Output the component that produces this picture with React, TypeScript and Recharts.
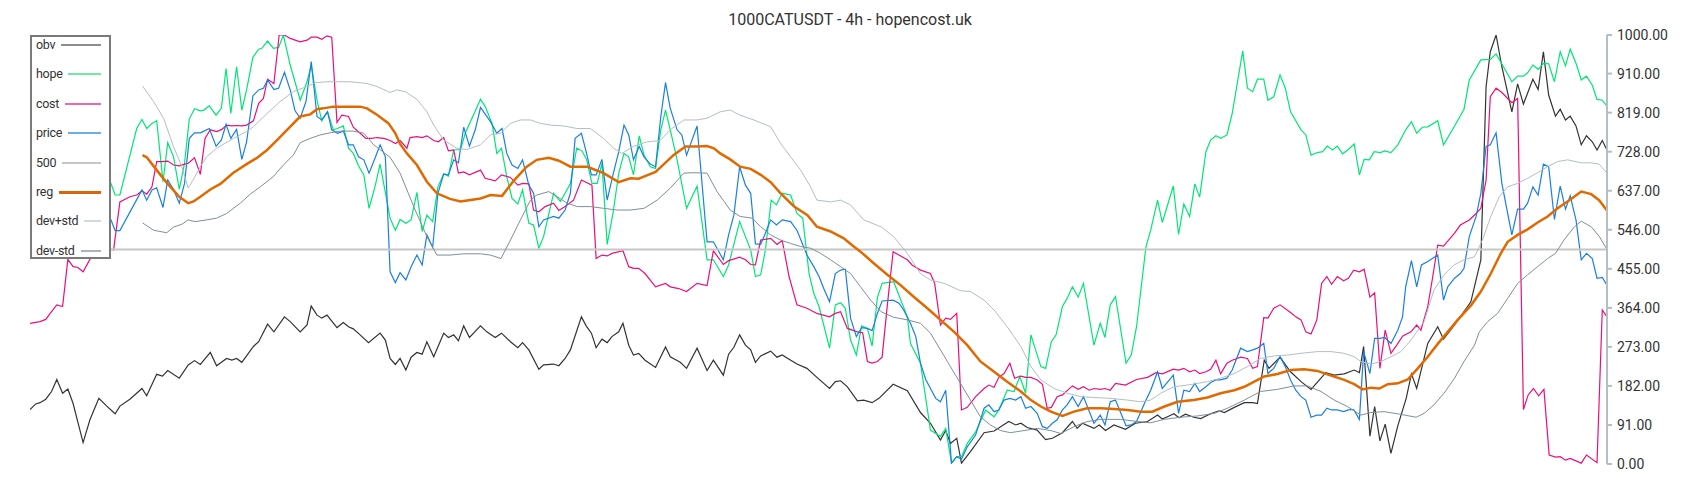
import React from 'react';
import { LineChart, Line, XAxis, YAxis } from 'recharts';

type Pt = [number, number];

const title = '1000CATUSDT - 4h - hopencost.uk';
const yTicks = [0, 91, 182, 273, 364, 455, 546, 637, 728, 819, 910, 1000];

const obv: Pt[] = [[0,127],[1.1,140],[1.9,143],[3,151],[4.1,169],[5.1,197],[6.2,165],[7.2,175],[8.2,141],[10.1,50],[11.4,103],[13.1,153],[14.6,135],[16.2,117],[17.1,135],[19,151],[21.3,176],[22.2,159],[24.1,209],[25.2,205],[26.2,218],[28.4,200],[30.1,231],[31.3,241],[32.4,232],[34.3,260],[35.5,229],[37.4,246],[38.4,242],[39.3,246],[40.3,237],[42.5,274],[43.5,285],[45.2,326],[46.4,308],[48.4,343],[49.5,332],[51.4,308],[52.7,324],[53.5,368],[54.6,347],[55.5,340],[56.5,347],[58.4,318],[59.6,330],[60.6,320],[61.5,315],[62.8,301],[64.4,283],[66.6,305],[67.6,289],[68.5,246],[69.5,232],[70.4,246],[71.5,219],[72.5,249],[73.6,260],[74.6,256],[75.5,285],[76.8,250],[78.7,305],[79.6,295],[80.6,301],[81.5,287],[82.5,322],[83.6,295],[85.7,322],[86.9,308],[88.5,295],[89.7,305],[91.4,285],[92.8,271],[93.7,283],[94.9,266],[96.8,221],[97.7,231],[99.6,233],[100.6,229],[101.8,246],[102.8,266],[104.9,343],[105.8,322],[106.8,305],[107.7,271],[108.8,291],[109.8,283],[110.7,297],[112,308],[112.8,328],[113.9,277],[114.8,254],[115.8,258],[117,242],[119,225],[120.9,273],[121.8,250],[123.7,237],[124.9,223],[126.9,270],[128.8,218],[130,242],[131.9,207],[132.9,256],[133.9,272],[135,301],[136.1,277],[137.1,266],[138,237],[139,252],[140.9,263],[142.1,249],[143.1,254],[144.4,244],[145.9,233],[147.8,223],[149.7,202],[152.1,176],[153.2,192],[154.2,194],[155.5,180],[157.4,147],[158.6,149],[160.2,143],[161.5,153],[164.2,186],[166.9,171],[169.4,120],[171.3,95],[173.2,56],[174.2,78],[175.1,48],[176.3,60],[177.2,2],[178.9,29],[181.5,73],[183.4,77],[186.2,99],[187.5,91],[188.5,95],[189.7,85],[191.6,79],[193.2,57],[194.5,60],[196.4,73],[198.3,99],[199.2,83],[200.2,95],[202.4,83],[203.4,91],[204.6,78],[206.2,91],[208.4,81],[210.3,95],[212.6,99],[214.5,114],[215.4,105],[216.7,112],[217.6,117],[218.6,108],[219.8,116],[221.4,109],[222.7,106],[224.6,117],[226.2,124],[227.2,120],[229.1,132],[231,143],[232.6,143],[233.5,141],[234.8,242],[235.7,223],[237.8,249],[239.8,215],[241.8,192],[243.7,174],[246.5,213],[248.1,207],[250,210],[251.9,219],[252.9,213],[253.7,274],[254.9,65],[255.8,134],[256.8,54],[257.8,93],[258.9,25],[260.2,89],[261.8,153],[262.8,210],[263.8,176],[265.9,281],[267.8,320],[268.9,291],[271,324],[274.1,378],[276,476],[277,880],[277.8,961],[278.9,1000],[280,926],[281.9,821],[283,886],[284.1,839],[285.9,897],[286.9,873],[287.9,961],[288.9,860],[290.2,811],[291.1,827],[292.1,802],[293,811],[294.1,788],[295.1,744],[296.1,765],[297.2,751],[298.1,732],[299.1,754],[300,732]];

const hope: Pt[] = [[0,690],[3,760],[6,720],[9,800],[12,740],[15.4,654],[16.2,627],[17.1,627],[20.3,782],[21.3,803],[22.2,782],[23.2,794],[24.1,800],[25.3,658],[26.2,749],[27.3,716],[28.4,640],[29.4,701],[30.3,804],[31.3,828],[32.4,823],[33.1,825],[34.1,835],[35.4,813],[36.4,829],[37.3,922],[38.2,817],[39.3,926],[40.3,825],[41.2,872],[42.4,948],[43.5,967],[44.1,969],[45.2,986],[46.3,969],[47.3,971],[48.2,1000],[49.5,930],[51.4,848],[52.7,891],[53.5,930],[54.6,848],[55.5,800],[56.6,821],[57.7,779],[58.5,782],[59.6,788],[60.6,736],[61.5,724],[62.5,695],[63.5,674],[64.5,596],[65.7,650],[66.6,699],[68.5,573],[69.5,545],[70.4,570],[71.5,561],[72.5,569],[73.6,633],[74.6,542],[75.5,580],[76.6,565],[77.6,646],[78.7,676],[79.6,671],[80.6,732],[81.9,733],[82.8,771],[85.7,850],[86.6,833],[87.9,794],[88.8,724],[89.7,736],[90.7,670],[91.7,619],[92.8,606],[93.7,639],[94.9,561],[95.8,557],[96.8,503],[97.7,530],[99.6,631],[100.9,612],[102.8,654],[104,736],[105,730],[105.9,709],[106.9,654],[107.9,654],[108.8,701],[109.8,512],[110.9,584],[112,678],[113,724],[113.9,716],[114.8,674],[115.9,765],[116.8,720],[118,693],[119,689],[120,779],[120.9,825],[121.8,779],[123.1,709],[124.9,596],[126.9,648],[128.8,476],[130,476],[131.9,437],[132.9,464],[135,565],[136.1,530],[137.1,499],[138,437],[139,441],[139.9,499],[141,615],[142,604],[143.1,631],[144.7,627],[145.9,584],[147,573],[148.2,444],[149.1,398],[150.1,367],[152.1,270],[153.2,371],[154.2,376],[155.1,363],[156.1,289],[157.2,254],[158.2,322],[159.3,316],[160.2,275],[161.2,388],[162.1,421],[164.3,425],[166.9,343],[167.5,281],[169.4,235],[171.3,79],[173.2,64],[174.2,83],[175.3,2],[176.3,17],[177.2,17],[178.3,48],[179.9,75],[181.8,126],[183.4,110],[184.3,126],[185.9,172],[187.2,169],[188.3,204],[189.4,165],[190.4,301],[192.3,227],[193.2,223],[194.3,285],[195.2,301],[196.4,367],[197.3,386],[198.3,413],[199.4,389],[200.4,421],[202.4,277],[203.6,328],[204.5,295],[205.5,371],[206.5,390],[208.5,235],[209.5,254],[210.5,320],[212.3,507],[213.2,545],[214.5,615],[215.4,563],[217.5,648],[218.5,535],[219.5,606],[220.6,577],[221.6,653],[222.5,622],[223.7,728],[224.6,755],[225.6,765],[226.5,759],[227.7,767],[228.7,817],[230.7,963],[231.6,876],[232.6,868],[233.5,897],[234.7,897],[235.5,848],[236.6,856],[237.8,907],[238.8,876],[239.8,821],[241.8,779],[242.7,767],[243.7,720],[244.9,726],[245.9,728],[246.8,741],[247.8,732],[248.7,741],[249.7,723],[250.8,733],[251.9,746],[252.9,674],[253.8,710],[254.8,709],[255.7,728],[256.9,726],[257.7,730],[258.9,726],[260.2,744],[261.7,779],[262.8,798],[263.8,771],[264.9,785],[265.9,786],[267.8,800],[268.9,744],[271,788],[272.8,827],[273.8,895],[276,942],[277.8,943],[278.9,956],[280.5,922],[281.9,891],[283,904],[284.1,904],[284.9,912],[285.9,930],[286.9,920],[287.9,934],[288.9,933],[290,891],[291.1,961],[292.1,928],[293,967],[294.1,934],[295.1,895],[296.1,904],[297.2,883],[298.1,850],[299.1,848],[300,834]];

const cost: Pt[] = [[0,328],[1.9,332],[3,337],[4.1,355],[5.1,371],[6.2,367],[7.2,477],[8.2,460],[9.1,458],[10.1,448],[11.4,477],[13,505],[15.9,499],[17.1,611],[19,623],[20.3,627],[21.3,637],[22.2,629],[23.2,646],[24.1,705],[25.1,705],[26.2,706],[27.3,697],[28.4,695],[29.4,699],[30.1,701],[31.3,714],[32.4,675],[33.3,759],[34.3,779],[35.5,775],[36.5,780],[37.4,790],[38.4,788],[39.3,789],[40.3,788],[41.2,790],[42.5,800],[43.5,841],[44.4,852],[45.2,897],[46.4,887],[47.4,1000],[48.4,1000],[49.5,992],[51.4,984],[52.7,988],[53.5,995],[54.6,995],[55.5,990],[56.5,998],[57.4,995],[58.4,796],[59.3,813],[60.6,810],[61.5,785],[62.8,771],[63.9,759],[65,759],[66,761],[67.3,759],[68.5,754],[69.5,747],[70.4,754],[71.7,736],[72.3,761],[73.6,763],[74.6,761],[75.5,765],[76.8,754],[77.7,751],[78.7,761],[79.6,730],[80.6,732],[81.5,678],[82.5,681],[83.6,674],[85.7,685],[86.6,666],[88.5,660],[89.7,674],[91.4,668],[92.8,650],[93.7,654],[94.9,653],[95.8,592],[96.8,588],[98,600],[99.6,608],[100.6,591],[101.8,600],[103.4,615],[104.9,662],[106.9,650],[107.7,479],[108.8,487],[109.8,485],[110.7,491],[112.8,497],[113.9,460],[114.8,456],[115.8,456],[117,444],[119,413],[120.9,421],[121.8,413],[123.4,409],[124.9,402],[126.9,421],[128.8,416],[130,497],[131.9,465],[132.9,474],[135,482],[136.1,476],[137.1,465],[138,464],[139,522],[140.9,526],[142.1,512],[143.1,521],[144.4,437],[145.9,371],[147.8,363],[149.7,351],[152.1,343],[153.2,351],[154.2,355],[155.5,316],[157.4,308],[158.4,306],[159.3,239],[160.2,235],[161.2,239],[162.1,249],[163.1,371],[164.2,495],[165.3,487],[166.9,476],[167.8,464],[169.4,452],[171.3,444],[172.1,421],[173.2,324],[174.2,340],[175.1,337],[176.3,351],[177.2,126],[178.3,132],[179.9,157],[181.5,176],[182.4,184],[183.4,179],[184.3,202],[185.3,211],[186.4,235],[187.3,200],[188.5,205],[189.4,202],[190.4,202],[191.6,196],[192.6,186],[193.5,130],[194.3,132],[195.4,157],[196.4,161],[197.3,171],[198.3,182],[199.4,174],[200.4,180],[201.5,172],[202.4,176],[203.6,174],[204.5,176],[205.5,172],[206.5,188],[208.4,184],[210.5,197],[212.6,202],[214.2,213],[215.4,210],[217.5,221],[218.5,219],[219.5,223],[220.6,215],[221.6,219],[222.5,211],[223.7,215],[224.6,221],[225.6,242],[226.5,210],[227.7,235],[228.7,242],[230.3,249],[231.6,246],[232.6,223],[233.5,227],[234.7,341],[235.5,340],[236.6,363],[237.8,371],[239.8,353],[240.8,343],[241.8,336],[242.7,308],[243.7,303],[244.8,336],[245.7,421],[246.7,437],[247.6,419],[248.7,437],[249.9,427],[250.8,433],[251.8,452],[252.9,448],[253.8,454],[254.9,389],[255.8,399],[256.8,223],[257.8,312],[258.9,258],[260,277],[261.1,298],[262.7,308],[263.8,324],[264.6,312],[265.9,367],[266.8,433],[267.8,510],[268.9,508],[271,538],[272.1,557],[273.8,569],[275.1,584],[276,596],[277,662],[277.8,856],[278.9,876],[280,866],[281.9,842],[283,852],[284.1,127],[285,161],[286,176],[287,159],[288,174],[289,21],[290.2,16],[291.1,17],[292.1,9],[293,13],[295.1,2],[296.1,21],[298.1,3],[299.1,359],[300,343]];

const price: Pt[] = [[0,767],[4,720],[8,680],[12,610],[15.4,569],[16.2,544],[17.1,544],[21.3,639],[22.2,615],[23.2,639],[24.1,644],[25.3,598],[26.2,662],[27.3,640],[28.4,608],[29.4,654],[30.3,759],[31.3,772],[32.4,772],[33.1,776],[34.1,782],[35.4,741],[36.4,755],[37.3,792],[38.2,759],[39.3,780],[40.3,710],[41.2,751],[42.4,858],[43.5,872],[44.4,876],[45.2,895],[46.4,873],[47.3,876],[48.4,913],[49.5,872],[50.4,824],[51.4,806],[52.5,845],[53.5,938],[54.6,810],[55.5,802],[56.6,821],[57.4,779],[58.5,771],[59.6,776],[60.6,744],[61.5,744],[62.5,716],[63.5,709],[64.5,678],[65.7,715],[66.6,744],[67.6,716],[68.5,448],[69.5,423],[70.4,446],[71.5,429],[72.5,460],[73.6,487],[74.6,464],[75.5,534],[76.6,505],[77.6,631],[78.7,676],[79.6,674],[80.6,709],[81.5,702],[82.5,785],[83.6,741],[84.7,779],[85.7,831],[87.6,798],[88.8,771],[89.8,782],[90.7,724],[91.7,697],[92.8,689],[93.7,709],[94.9,650],[95.8,631],[96.8,553],[97.7,569],[99.6,577],[100.6,573],[101.8,592],[102.8,631],[103.7,759],[104.9,771],[105.8,728],[106.8,674],[107.7,674],[108.8,710],[109.8,615],[110.9,674],[112,728],[113,790],[113.9,767],[114.8,709],[115.9,740],[116.8,716],[118,699],[119,693],[120,810],[120.9,889],[121.8,829],[123.1,779],[124,767],[124.9,720],[126.9,788],[128.8,518],[130,518],[131.9,476],[132.9,534],[133.9,580],[135,693],[136.1,650],[137.1,631],[138,513],[139,512],[139.9,538],[140.9,569],[142,557],[143.1,569],[144.7,565],[145.9,545],[147.8,487],[149.1,460],[150.1,437],[151,409],[152.1,378],[153.2,444],[154.2,452],[155.1,454],[156.1,340],[157.2,297],[158.2,318],[159.3,316],[160.2,311],[161.2,351],[162.1,380],[164.2,382],[165.3,375],[166.2,359],[167.5,328],[168.5,297],[169.4,235],[170.4,197],[171.3,176],[172.3,153],[173.2,145],[174.2,172],[175.3,2],[176.3,17],[177.2,11],[178.3,40],[179.9,68],[181.5,130],[182.4,138],[183.4,122],[184.3,126],[185.3,149],[186.4,153],[187.5,149],[188.5,157],[189.4,130],[190.4,134],[191.6,118],[192.6,87],[193.5,83],[194.5,95],[195.4,103],[196.4,126],[197.3,138],[198.3,157],[199.4,134],[200.4,157],[202.4,95],[203.6,114],[204.5,91],[205.5,145],[206.5,149],[208.5,89],[209.5,91],[210.5,99],[212.3,149],[213.2,172],[214.5,215],[215.4,176],[217.5,207],[218.5,118],[219.5,172],[220.6,169],[221.6,188],[222.5,169],[223.7,180],[224.6,190],[225.6,196],[226.5,196],[227.7,200],[228.7,219],[230.3,270],[231.6,262],[232.6,266],[233.5,270],[234.7,281],[235.5,211],[236.6,223],[237.8,250],[238.8,227],[239.8,196],[240.8,172],[241.8,157],[242.7,149],[243.7,109],[244.8,114],[245.7,114],[246.7,130],[247.6,126],[248.7,126],[249.9,122],[250.8,126],[251.8,127],[252.9,104],[253.7,262],[254.9,211],[255.8,293],[256.8,293],[257.7,295],[258.9,281],[260.2,312],[261.1,343],[261.7,413],[262.8,474],[263.8,413],[264.7,464],[265.9,472],[267.8,487],[268.9,382],[269.7,413],[271,433],[272.1,444],[272.8,456],[273.8,530],[275.1,577],[276,631],[277,740],[277.8,744],[278.9,772],[280,654],[281.9,534],[283,594],[284.1,594],[284.9,608],[285.9,646],[286.9,627],[287.9,699],[288.9,693],[290,570],[291.1,648],[292.1,594],[293,625],[294.1,569],[295.1,476],[296.1,491],[297.2,479],[298.1,433],[299.1,435],[300,417]];

const level500: Pt[] = [[0,500],[300,500]];

const reg: Pt[] = [[21.4,720],[22.2,715],[24.1,685],[26,656],[28.4,623],[30.1,608],[31.1,612],[32.4,623],[34.3,640],[36.2,653],[38.7,679],[41.2,699],[43.1,713],[45.1,732],[47,755],[48.9,779],[51.4,810],[53.3,815],[54.6,827],[55.8,829],[57.7,833],[62.8,833],[64.1,829],[66,814],[68.2,794],[69.5,771],[70.4,746],[71.7,724],[73.6,697],[75.5,658],[77.4,631],[79.9,618],[81.9,612],[85.7,619],[87.6,627],[89.8,625],[92,660],[94.5,693],[96.4,709],[98.7,714],[100.6,707],[102.8,693],[106,693],[107.2,687],[109.1,678],[112,657],[114.2,666],[115.8,665],[117,671],[119,681],[120.6,699],[122.4,720],[124.7,740],[126.9,740],[128.8,741],[130.1,736],[131.3,724],[133.2,710],[135.1,693],[137.1,688],[139,674],[140.9,657],[142.8,631],[145.3,601],[147.9,580],[149.7,553],[152.3,542],[154.8,526],[156.7,507],[158,495],[160.5,468],[163.1,441],[165.6,417],[168.1,390],[170.7,363],[173.2,336],[175.8,308],[178.3,277],[180.8,239],[183.4,215],[185.9,192],[188.5,169],[190.4,149],[192.3,134],[194.2,122],[196.4,112],[198.6,122],[201.1,130],[203.7,130],[206.2,128],[208.8,126],[211.3,122],[213.5,122],[215.8,134],[218.3,145],[221.4,149],[224,155],[226.5,165],[229.1,172],[231,180],[232.9,192],[234.8,204],[237.3,210],[239.8,219],[242.4,221],[244.9,217],[247.5,206],[250,196],[251.9,186],[253.5,174],[255.1,178],[256.7,176],[258.3,186],[260.2,188],[262.1,197],[264,223],[265.9,250],[267.8,280],[269.7,308],[271.6,336],[274.2,371],[276,402],[277.9,444],[279.8,491],[281.1,518],[283,534],[284.9,547],[286.8,563],[288.7,577],[290.6,596],[292.5,612],[295.1,635],[297,629],[298.5,615],[300,591]];

const devPlus: Pt[] = [[21.4,881],[23.5,845],[25.4,806],[27.3,740],[28.9,693],[30.1,643],[31.4,670],[32.4,693],[33.6,716],[35.5,736],[38.7,759],[41.2,775],[42.5,786],[45.1,817],[47.6,845],[50.1,868],[52.7,880],[54.3,889],[56.5,891],[60.9,891],[64.1,887],[66,880],[68.5,866],[69.8,872],[71.4,868],[73.6,850],[75.5,821],[76.8,790],[78.7,755],[81.2,736],[83.1,733],[85.7,744],[87.6,767],[89.5,771],[91.4,794],[93.3,802],[95.2,802],[97.1,794],[99,790],[101.5,788],[104.1,782],[106.6,782],[109.1,759],[111,736],[112.6,724],[114.9,741],[117.4,751],[119.9,754],[121.8,779],[124.4,802],[126.9,802],[128.8,806],[131.3,821],[133.2,825],[135.1,813],[137.7,802],[140.9,786],[142.8,747],[144.7,716],[146.6,685],[148.5,646],[149.7,615],[152.3,611],[154.2,615],[156.1,604],[158.6,569],[161.9,553],[164.3,530],[166.9,491],[169.4,444],[171.3,429],[173.9,421],[177,404],[178.9,402],[181.5,382],[183.4,359],[185.9,320],[188.5,274],[190.4,227],[192.3,196],[194.8,176],[197.3,165],[199.9,157],[202.4,155],[205.6,153],[208.8,149],[211.3,145],[213.2,149],[215.1,165],[217.6,180],[220.2,184],[224,192],[226.5,200],[229.1,211],[231.6,227],[234.1,246],[236.7,252],[239.2,254],[241.8,258],[244.9,262],[247.5,262],[250,258],[251.9,250],[253.2,239],[255.1,233],[257,239],[258.9,250],[260.8,262],[262.7,289],[265.2,332],[267.1,406],[269,441],[270.9,464],[272.8,476],[274.8,483],[276.3,522],[277.9,577],[279.5,623],[281.1,646],[283,654],[284.9,666],[286.8,679],[288.7,693],[290.6,705],[292.5,709],[295.1,702],[297,702],[298.5,699],[300,678]];

const devMinus: Pt[] = [[21.4,562],[23.5,545],[26,539],[27.3,552],[28.9,559],[30.1,569],[31.4,565],[33.6,569],[35.5,573],[37.4,584],[40,608],[41.9,629],[43.8,646],[46.3,670],[48.2,697],[50.1,720],[51.4,749],[53.3,759],[55.2,767],[57.1,772],[59,776],[61.5,776],[63.5,771],[65.4,744],[67.3,726],[68.5,715],[70.4,678],[73,600],[75.5,530],[77.4,487],[79.9,487],[82.5,490],[85.7,490],[87.6,487],[89.6,479],[91.4,522],[93.3,569],[95.2,615],[96.4,627],[98.7,635],[100.3,623],[102.2,608],[104.1,600],[106.6,600],[109.1,596],[111.7,592],[114.2,592],[116.8,596],[119.3,615],[121.8,643],[124.4,678],[126.3,679],[128.8,678],[130.7,635],[133.2,592],[135.1,577],[137.4,573],[139,553],[140.9,534],[142.8,522],[144.7,514],[146.6,507],[148.5,503],[150.4,491],[152.3,476],[154.2,460],[156.1,444],[158,413],[159.9,382],[161.9,355],[164.3,342],[166.9,336],[169.4,328],[171.3,305],[173.2,266],[175.1,227],[177,188],[178.9,149],[180.8,110],[182.7,91],[184.6,78],[186.5,73],[189.1,78],[191.6,83],[194.2,78],[196.1,71],[198.6,87],[201.1,99],[203.7,104],[207.5,104],[210.7,99],[213.2,96],[215.7,104],[218.9,109],[222.1,112],[225.3,118],[227.8,130],[231,149],[234.1,169],[237.3,174],[240.5,182],[243,182],[245.6,169],[248.1,149],[250.6,134],[253.2,114],[255.1,120],[257.6,122],[260.2,117],[263.7,109],[265.2,118],[267.1,138],[269,165],[271,200],[272.8,239],[274.8,277],[275.7,308],[277.3,332],[279.2,351],[281.1,386],[283,421],[284.9,441],[286.8,460],[288.7,479],[290.2,491],[291.8,522],[293.8,553],[295.1,566],[297,553],[298.5,531],[300,500]];

const seriesDefs = [
  { name: 'obv', pts: obv, color: '#333333', width: 1.2, legendColor: '#8c8c8c', legendWidth: 2 },
  { name: 'hope', pts: hope, color: '#00e676', width: 1.2, legendColor: '#6fe9a3', legendWidth: 2 },
  { name: 'cost', pts: cost, color: '#ea0f7a', width: 1.2, legendColor: '#ee6aa6', legendWidth: 2 },
  { name: 'price', pts: price, color: '#1a80e0', width: 1.2, legendColor: '#6aaef0', legendWidth: 2 },
  { name: '500', pts: level500, color: '#c6c6c6', width: 2, legendColor: '#c6c6c6', legendWidth: 2 },
  { name: 'reg', pts: reg, color: '#e06a00', width: 2.5, legendColor: '#d8650a', legendWidth: 3 },
  { name: 'dev+std', pts: devPlus, color: '#b3bec5', width: 1, legendColor: '#d2d8db', legendWidth: 2 },
  { name: 'dev-std', pts: devMinus, color: '#7f8f98', width: 1, legendColor: '#a9b3b9', legendWidth: 2 },
];

const toRows = (pts: Pt[]) => pts.map(([t, v]) => ({ t, v }));

const W = 1684;
const H = 484;

export default function App() {
  return (
    <div style={{ position: 'relative', width: W, height: H, fontFamily: 'Roboto, sans-serif', background: '#fff' }}>
      <LineChart width={W} height={H} margin={{ top: 27, right: 0, bottom: 28, left: 22 }}>
        <XAxis dataKey="t" type="number" domain={[0, 300]} hide allowDataOverflow />
        <YAxis
          orientation="right"
          domain={[0, 1000]}
          ticks={yTicks}
          interval={0}
          width={85}
          tickSize={5}
          tickMargin={5}
          allowDataOverflow
          tickFormatter={(v: number) => v.toFixed(2)}
          axisLine={{ stroke: '#b4bec4', strokeWidth: 2 }}
          tickLine={{ stroke: '#b4bec4', strokeWidth: 2 }}
          tick={{ fill: '#333', fontSize: 14, fontFamily: 'Roboto' }}
        />
        {seriesDefs.map((s) => (
          <Line
            key={s.name}
            data={toRows(s.pts)}
            dataKey="v"
            name={s.name}
            type="linear"
            stroke={s.color}
            strokeWidth={s.width}
            dot={false}
            activeDot={false}
            isAnimationActive={false}
          />
        ))}
      </LineChart>
      <div style={{ position: 'absolute', top: 2, left: 0, width: W, textAlign: 'center', fontSize: 16, lineHeight: '20px', color: '#333' }}>
        {title}
      </div>
      <div
        style={{
          position: 'absolute', left: 22, top: 27, width: 81, height: 224, boxSizing: 'border-box',
          border: '2px solid #7a7a7a', background: '#fff',
        }}
      >
        {seriesDefs.map((s, i) => (
          <div
            key={s.name}
            style={{
              position: 'absolute', left: 4, right: 8, top: -2 + i * 29.4, height: 20,
              display: 'flex', alignItems: 'center', fontSize: 12.5, letterSpacing: -0.3, color: '#333', lineHeight: '20px',
            }}
          >
            <span>{s.name}</span>
            <div style={{ flex: 1, marginLeft: 6, height: s.legendWidth, background: s.legendColor }} />
          </div>
        ))}
      </div>
    </div>
  );
}
